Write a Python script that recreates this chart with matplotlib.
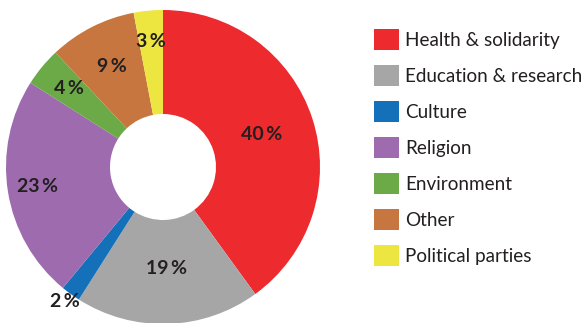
import numpy as np
import matplotlib.pyplot as plt
from matplotlib.patches import Patch

categories = ["Health & solidarity", "Education & research", "Culture", "Religion",
              "Environment", "Other", "Political parties"]
shares = [40, 19, 2, 23, 4, 9, 3]
colors = ["#ED2A2D", "#A6A6A6", "#1470B8", "#9D6BAE", "#6BAA47", "#C77640", "#EDE640"]

# radial position of each percentage label (fraction of outer radius)
label_r = [0.66, 0.65, 1.06, 0.81, 0.78, 0.72, 0.80]

plt.rcParams["font.family"] = ["Lato", "DejaVu Sans"]

fig = plt.figure(figsize=(5.84, 3.23), dpi=100)
ax = fig.add_axes([6 / 584, -1 / 323, 314 / 584, 314 / 323])

wedges, _ = ax.pie(shares, colors=colors, startangle=90, counterclock=False,
                   radius=1.0, wedgeprops=dict(width=1 - 53 / 157, linewidth=0))
ax.set_aspect("equal")
ax.set_xlim(-1, 1)
ax.set_ylim(-1, 1)

for w, v, r in zip(wedges, shares, label_r):
    ang = np.deg2rad((w.theta1 + w.theta2) / 2)
    ax.text(r * np.cos(ang), r * np.sin(ang), f"{v}\u2009%", ha="center", va="center",
            fontsize=14, fontweight="bold", color="#231F20")

handles = [Patch(facecolor=c, edgecolor="none") for c in colors]
fig.legend(handles, categories, loc="upper left", bbox_to_anchor=(374 / 584, 1 - 29 / 323),
           frameon=False, fontsize=13.6, handlelength=1.3, handleheight=1.3,
           handletextpad=0.35, labelspacing=0.82, borderaxespad=0, borderpad=0,
           labelcolor="#231F20")

fig.savefig("out.png", dpi=100)
